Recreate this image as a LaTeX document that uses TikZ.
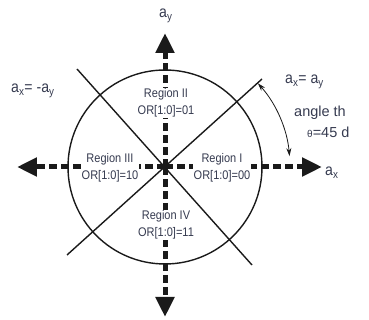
\documentclass[tikz,border=0pt]{standalone}
\usepackage{fontspec}
\setmainfont{Liberation Sans}
\newfontfamily\narrowsans[FakeStretch=0.88]{Liberation Sans}
\usetikzlibrary{arrows.meta}
\definecolor{RegionInk}{HTML}{363B50}
\definecolor{AxisBlack}{HTML}{1A1A1A}

\begin{document}
\begin{tikzpicture}[
        x=1pt, y=1pt,
        axis/.style={
                draw=AxisBlack,
                line width=5pt,
                dash pattern=on 8pt off 4pt,
                -{Triangle[length=20pt,width=18pt]}
            },
        divider/.style={draw=AxisBlack, line width=1.4pt},
        region/.style={
                fill=white,
                text=RegionInk,
                inner sep=1pt,
                align=center,
                font=\narrowsans\fontsize{12.5}{17}\selectfont
            },
        axislabel/.style={text=RegionInk, inner sep=0pt, anchor=base west,
                font=\narrowsans\fontsize{16}{18}\selectfont},
        anglearrow/.style={draw=AxisBlack, line width=0.8pt,
                {Stealth[length=8pt,width=5pt]}-{Stealth[length=8pt,width=5pt]}},
    ]
    \useasboundingbox (-165,-153) rectangle (204,167);

    % axes
    \coordinate (O) at (0,0);
    \coordinate (top) at (0,134);
    \coordinate (bottom) at (0,-150);
    \coordinate (left) at (-148,0);
    \coordinate (right) at (157,0);

    \draw[axis] (O) -- (top);
    \draw[axis] (O) -- (bottom);
    \draw[axis] (O) -- (left);
    \draw[axis] (O) -- (right);

    % circle and the two region borders
    \draw[divider] (O) circle[radius=97];
    \coordinate (d1a) at (-88,98);
    \coordinate (d1b) at (87,-98);
    \coordinate (d2a) at (-98,-88);
    \coordinate (d2b) at (97,88);
    \draw[divider] (d1a) -- (d1b);
    \draw[divider] (d2a) -- (d2b);

    % regions
    \node[region] (regII) at (1,64) {Region II\\OR[1:0]=01};
    \node[region] (regIII) at (-55,-1) {Region III\\OR[1:0]=10};
    \node[region] (regI) at (57,-1) {Region I\\OR[1:0]=00};
    \node[region] (regIV) at (1,-58) {Region IV\\OR[1:0]=11};

    % angle
    \draw[anglearrow] (42:125) arc[start angle=42, end angle=5, radius=125];

    % labels
    \node[axislabel] (ay) at (-6,149) {a\textsubscript{y}};
    \node[axislabel] (ax) at (160,-9) {a\textsubscript{x}};
    \node[axislabel] (diagpos) at (120,83) {a\textsubscript{x}= a\textsubscript{y}};
    \node[axislabel] (diagneg) at (-154,74) {a\textsubscript{x}= -a\textsubscript{y}};
    \node[axislabel, font=\fontsize{14.5}{16}\selectfont] (angtxt) at (129,50) {angle th};
    \node[axislabel, font=\fontsize{14.5}{16}\selectfont] (thtxt) at (142,29) {{\fontsize{10}{12}\selectfont θ}=45 d};
\end{tikzpicture}
\end{document}
